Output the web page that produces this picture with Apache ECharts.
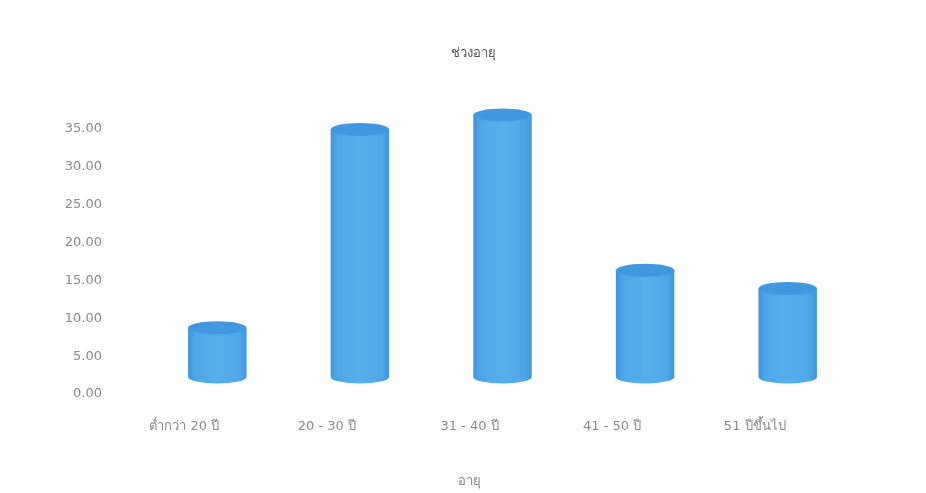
<!DOCTYPE html>
<html>
<head>
<meta charset="utf-8">
<script src="https://cdn.jsdelivr.net/npm/echarts@6/dist/echarts.min.js"></script>
<style>html,body{margin:0;padding:0;background:#fff;}#chart{width:926px;height:493px;}</style>
</head>
<body>
<div id="chart"></div>
<script>
const categories = ['ต่ำกว่า 20 ปี', '20 - 30 ปี', '31 - 40 ปี', '41 - 50 ปี', '51 ปีขึ้นไป'];
const values = [6.5, 32.7, 34.6, 14.1, 11.7];
const yTicks = [0, 5, 10, 15, 20, 25, 30, 35];
const titleText = 'ช่วงอายุ';
const xAxisName = 'อายุ';

const chart = echarts.init(document.getElementById('chart'), null, {renderer: 'canvas'});
const FONT = '"DejaVu Sans", "Noto Sans", sans-serif';

function renderItem(params, api) {
  const i = api.value(0);
  const v = api.value(1);
  const base = api.coord([i, 0]);
  const top = api.coord([i, v]);
  const band = api.size([1, 0])[0];
  const w = band * 0.41;
  const dx = 33, dy = -17; // 3D depth offset
  const rx = w / 2, ry = 6.5;
  const cx = base[0] + dx;
  const x1 = cx - rx, x2 = cx + rx;
  const yb = base[1] + dy, yt = top[1] + dy;
  const bodyPath = `M ${x1} ${yt} L ${x1} ${yb} A ${rx} ${ry} 0 0 0 ${x2} ${yb} L ${x2} ${yt} Z`;
  const topPath = `M ${x1} ${yt} A ${rx} ${ry} 0 0 1 ${x2} ${yt} A ${rx} ${ry} 0 0 1 ${x1} ${yt} Z`;
  return {
    type: 'group',
    children: [
      {
        type: 'path',
        shape: {pathData: bodyPath},
        style: {
          fill: new echarts.graphic.LinearGradient(0, 0, 1, 0, [
            {offset: 0, color: '#4093d9'},
            {offset: 0.12, color: '#4ea8e8'},
            {offset: 0.5, color: '#56afec'},
            {offset: 0.88, color: '#4ea8e8'},
            {offset: 1, color: '#4093d9'}
          ])
        }
      },
      {
        type: 'path',
        shape: {pathData: topPath},
        style: {fill: '#4099df'}
      }
    ]
  };
}

chart.setOption({
  animation: false,
  backgroundColor: '#ffffff',
  title: {
    text: titleText,
    left: 468,
    textAlign: 'center',
    top: 42,
    textStyle: {fontFamily: FONT, fontSize: 13, fontWeight: 'normal', color: '#555'}
  },
  grid: {left: 113, right: 100, top: 129, bottom: 89},
  xAxis: {
    type: 'category',
    data: categories,
    axisLine: {show: false},
    axisTick: {show: false},
    axisLabel: {margin: 26, fontFamily: FONT, fontSize: 13, color: '#8a8a8a'},
    name: xAxisName,
    nameLocation: 'middle',
    nameGap: 81,
    nameTextStyle: {fontFamily: FONT, fontSize: 13, color: '#8a8a8a'}
  },
  yAxis: {
    type: 'value',
    min: yTicks[0],
    max: yTicks[yTicks.length - 1],
    interval: yTicks[1] - yTicks[0],
    axisLine: {show: false},
    axisTick: {show: false},
    splitLine: {show: false},
    axisLabel: {
      margin: 11,
      fontFamily: FONT,
      fontSize: 13,
      color: '#8a8a8a',
      formatter: v => v.toFixed(2)
    }
  },
  series: [{
    type: 'custom',
    renderItem: renderItem,
    data: categories.map((c, i) => [i, values[i]]),
    encode: {x: 0, y: 1}
  }]
});
</script>
</body>
</html>
